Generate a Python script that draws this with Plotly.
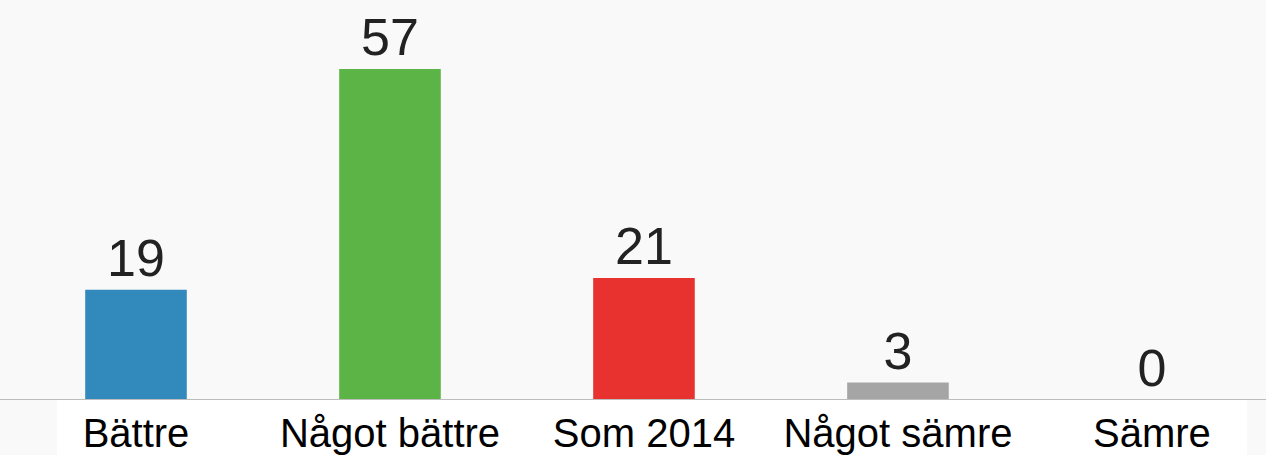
import plotly.graph_objects as go

categories = ["Bättre", "Något bättre", "Som 2014", "Något sämre", "Sämre"]
values = [19, 57, 21, 3, 0]
colors = ["#3289bc", "#5cb346", "#e83230", "#a5a5a5", "#a5a5a5"]

fig = go.Figure(go.Bar(
    x=list(range(len(categories))),
    y=values,
    marker=dict(color=colors, line=dict(width=0)),
    width=0.4,
    text=[str(v) for v in values],
    textposition="outside",
    textfont=dict(family="Liberation Sans, Arial, sans-serif", size=52, color="#222222"),
    cliponaxis=False,
    hoverinfo="skip",
))

fig.add_shape(type="rect", xref="paper", yref="paper",
              x0=(57 - 9) / 1257, x1=(1247 - 9) / 1257, y0=-1, y1=0,
              fillcolor="white", line=dict(width=0), layer="below")

fig.update_layout(
    width=1266, height=455,
    margin=dict(l=9, r=0, t=0, b=55),
    paper_bgcolor="#f9f9f9",
    plot_bgcolor="#f9f9f9",
    showlegend=False,
    xaxis=dict(
        range=[-0.5, 4.449],
        tickmode="array",
        tickvals=list(range(len(categories))),
        ticktext=categories,
        tickfont=dict(family="Liberation Sans, Arial, sans-serif", size=40, color="#000000"),
        showgrid=False, zeroline=False,
        showline=False, ticks="",
        ticklabelstandoff=6,
    ),
    yaxis=dict(
        range=[0, 68.9],
        visible=False, showgrid=False,
        zeroline=False,
    ),
)
fig.add_shape(type="line", xref="paper", yref="y", x0=-0.01, x1=1, y0=0, y1=0,
              line=dict(color="#bdbdbd", width=2), layer="above")

fig.write_html(
    "out.html",
    config={"displayModeBar": False},
    post_script="document.body.style.margin='0';document.body.style.background='#f9f9f9';",
)
